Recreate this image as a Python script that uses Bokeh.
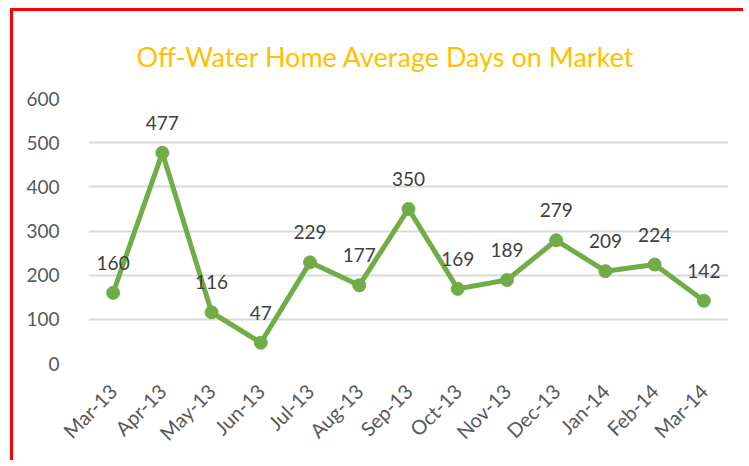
from bokeh.plotting import figure
from bokeh.models import ColumnDataSource, SingleIntervalTicker
from bokeh.core.properties import value
from bokeh.embed import file_html
from bokeh.resources import INLINE
import math

months = ["Mar-13", "Apr-13", "May-13", "Jun-13", "Jul-13", "Aug-13", "Sep-13",
          "Oct-13", "Nov-13", "Dec-13", "Jan-14", "Feb-14", "Mar-14"]
days = [160, 477, 116, 47, 229, 177, 350, 169, 189, 279, 209, 224, 142]
labels = [str(v) for v in days]

title_text = "Off-Water Home Average Days on Market"
FONT = "Lato"

src = ColumnDataSource(dict(m=months, d=days, lab=labels))

p = figure(x_range=months, y_range=(0, 600), width=733, height=452,
           output_backend="svg", toolbar_location=None, title=title_text,
           min_border_left=75, min_border_right=18, min_border_top=86,
           min_border_bottom=100)
p.styles = {"border-left": "3px solid #FF0000", "border-top": "3px solid #FF0000",
            "margin-left": "10px", "margin-top": "8px"}

p.title.align = "left"
p.title.text_font = FONT
p.title.text_font_style = "normal"
p.title.text_font_size = "27px"
p.title.text_color = "#FFC000"
p.title.standoff = 52
p.title.offset = 48

p.outline_line_color = None
p.background_fill_color = "white"
p.border_fill_color = "white"

p.xgrid.grid_line_color = None
p.ygrid.grid_line_color = "#D9D9D9"
p.ygrid.grid_line_width = 2
p.yaxis.ticker = SingleIntervalTicker(interval=100)

for ax in (p.xaxis[0], p.yaxis[0]):
    ax.axis_line_color = None
    ax.major_tick_line_color = None
    ax.minor_tick_line_color = None
    ax.major_label_text_font = FONT
    ax.major_label_text_color = "#595959"

p.yaxis.major_label_text_font_size = "19px"
p.yaxis.major_label_standoff = 23
p.xaxis.major_label_text_font_size = "20px"
p.xaxis.major_label_orientation = math.pi / 4
p.xaxis.major_label_standoff = 18

p.line("m", "d", source=src, line_color="#70AD47", line_width=5)
p.scatter("m", "d", source=src, size=13, fill_color="#70AD47", line_color="#70AD47")
p.text("m", "d", text="lab", source=src, y_offset=-30, text_align="center",
       text_baseline="middle", text_font=value(FONT), text_font_size="19px",
       text_color="#404040")

open("out.html", "w").write(file_html(p, INLINE))
